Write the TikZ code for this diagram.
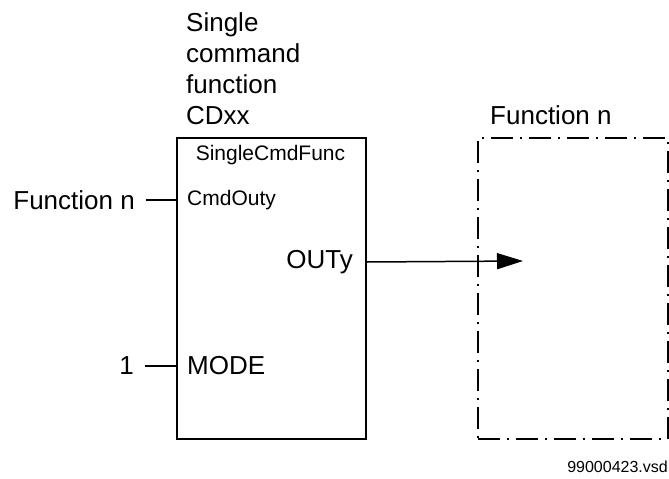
\documentclass[tikz,border=0pt]{standalone}
\usepackage{fontspec}
\setmainfont{Liberation Sans}
\usetikzlibrary{arrows.meta}

\tikzset{
	blockbox/.style= {draw, line width= 1.6pt, minimum width= 189pt, minimum height= 301pt, anchor= north west, inner sep= 0pt},
	funcbox/.style= {draw, line width= 1.6pt, dash pattern= on 22pt off 7pt on 2pt off 7pt, minimum width= 190pt, minimum height= 301pt, anchor= north west, inner sep= 0pt},
	big/.style= {font= \fontsize{26}{31}\selectfont, inner sep= 0pt},
	small/.style= {font= \fontsize{21}{25}\selectfont, inner sep= 0pt},
	wire/.style= {line width= 1.5pt}
}

\begin{document}
\begin{tikzpicture}[x= 1pt, y= -1pt]
	\useasboundingbox (0, 0) rectangle (669, 479);

	\node[blockbox](blk) at (176, 137) {}; %ブロック
	\node[funcbox](fnbox) at (477, 137) {}; %機能 n
	\node[big, align= left, anchor= north west](title) at (186, 12.5) {Single\\command\\function\\CDxx}; %見出し
	\node[big, anchor= west](fntitle) at (490, 115) {Function n};

	\node[small](blkname) at (270.5, 155) {SingleCmdFunc};
	\node[small, anchor= west](cmdout) at (187, 200) {CmdOuty};
	\node[big, anchor= west](mode) at (187, 366) {MODE};
	\node[big, anchor= east](outy) at (353, 262) {OUTy};

	\node[big, anchor= east](fnin) at (135, 200) {Function n}; %入力
	\node[big, anchor= east](one) at (134, 366) {1};
	\coordinate (tip) at (523, 261); %矢印の先

	\draw[wire]([xshift= 11pt]fnin.east)-- (fnin.east -| blk.west); %Function n- CmdOuty
	\draw[wire]([xshift= 11pt]one.east)-- (one.east -| blk.west); %1- MODE
	\draw[wire, -{Triangle[length= 26pt, width= 16pt]}](outy.east -| blk.east)-- (tip); %OUTy- 機能 n

	\node[font= \fontsize{16}{19}\selectfont, inner sep= 0pt, anchor= east](file) at (668, 467) {99000423.vsd};
\end{tikzpicture}
\end{document}
